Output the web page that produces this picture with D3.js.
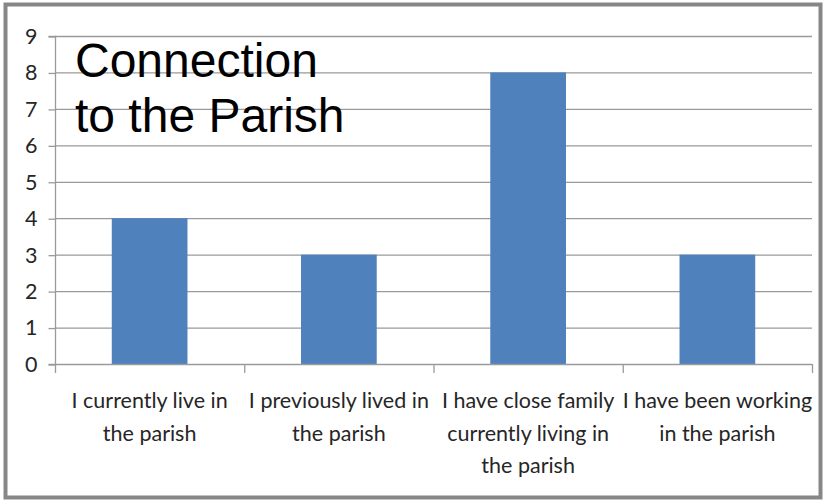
<!DOCTYPE html>
<html><head><meta charset="utf-8">
<script src="https://cdn.jsdelivr.net/npm/d3@7"></script>
<style>body{margin:0;background:#fff}</style>
</head><body>
<svg id="c" width="826" height="502"></svg>
<script>
const categories = [
  ["I currently live in", "the parish"],
  ["I previously lived in", "the parish"],
  ["I have close family", "currently living in", "the parish"],
  ["I have been working", "in the parish"]
];
const values = [4, 3, 8, 3];
const yTicks = [0,1,2,3,4,5,6,7,8,9];
const titleLines = ["Connection", "to the Parish"];

const svg = d3.select("#c");
svg.append("rect").attr("x",5.5).attr("y",4.5).attr("width",815).attr("height",493)
  .attr("fill","#fff").attr("stroke","#878787").attr("stroke-width",4);

const pLeft = 55, pRight = 812, pTop = 36, pBottom = 364;
const x = d3.scaleBand().domain(d3.range(categories.length)).range([pLeft, pRight]).padding(0);
const y = d3.scaleLinear().domain([0, 9]).range([pBottom, pTop]);

// gridlines
svg.append("g").selectAll("line").data(yTicks.filter(d=>d>0)).join("line")
  .attr("x1", pLeft).attr("x2", pRight)
  .attr("y1", d=>y(d)+0.5).attr("y2", d=>y(d)+0.5)
  .attr("stroke","#9a9a9a").attr("stroke-width",1.3);

// bars
const bw = x.bandwidth()*0.4;
svg.append("g").selectAll("rect").data(values).join("rect")
  .attr("x",(d,i)=>x(i)+x.bandwidth()/2-bw/2)
  .attr("y",d=>y(d)).attr("width",bw).attr("height",d=>y(0)-y(d))
  .attr("fill","#4F81BD");

// y axis
const yAxis = d3.axisLeft(y).tickValues(yTicks).tickSize(7).tickPadding(11).tickFormat(d3.format("d"));
const gy = svg.append("g").attr("transform",`translate(${pLeft+0.5},0.5)`).call(yAxis);
gy.selectAll("path,line").attr("stroke","#9a9a9a").attr("stroke-width",1.3);
gy.select(".domain").attr("d",`M-7,${pTop}H0V${pBottom}H-7`);
gy.selectAll("text").attr("font-family","Lato, 'Open Sans', sans-serif").attr("font-size",21.5).attr("fill","#262626");

// x axis
const xb = d3.range(categories.length+1).map(i=> i<categories.length ? x(i) : pRight);
const gx = svg.append("g");
gx.append("line").attr("x1",pLeft).attr("x2",pRight).attr("y1",pBottom+0.5).attr("y2",pBottom+0.5)
  .attr("stroke","#9a9a9a").attr("stroke-width",1.3);
gx.selectAll("line.t").data(xb).join("line").attr("class","t")
  .attr("x1",d=>d+0.5).attr("x2",d=>d+0.5).attr("y1",pBottom).attr("y2",pBottom+9)
  .attr("stroke","#9a9a9a").attr("stroke-width",1.3);

const lab = svg.append("g").selectAll("text").data(categories).join("text")
  .attr("font-family","Lato, 'Open Sans', sans-serif").attr("font-size",21.5).attr("fill","#262626")
  .attr("text-anchor","middle");
lab.selectAll("tspan").data((d,i)=>d.map(s=>({s,i}))).join("tspan")
  .attr("x",d=>x(d.i)+x.bandwidth()/2).attr("y",(d,j)=>408+j*32.5).text(d=>d.s);

// title
svg.append("g").selectAll("text").data(titleLines).join("text")
  .attr("x",75).attr("y",(d,i)=>77+i*55)
  .attr("font-family","'Liberation Sans', Arial, sans-serif").attr("font-size",48).attr("fill","#000")
  .text(d=>d);
</script>
</body></html>
